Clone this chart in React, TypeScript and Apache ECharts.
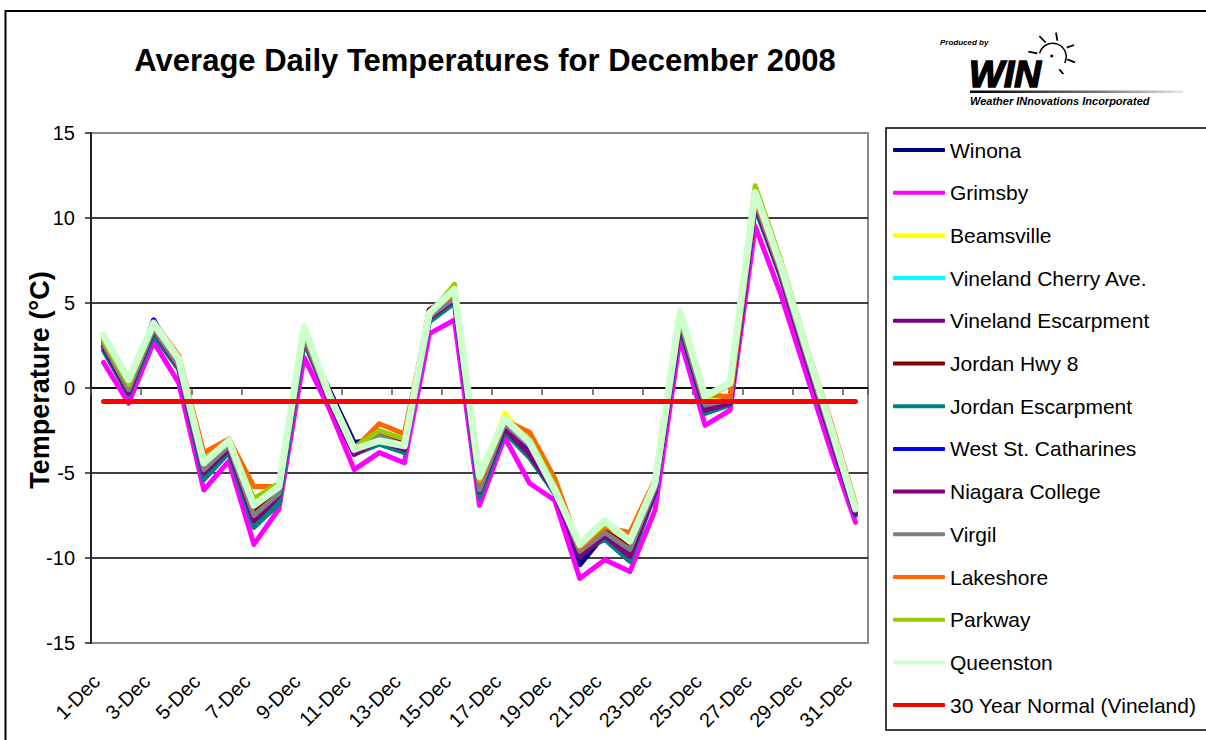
import React, { useEffect, useRef } from "react";
import * as echarts from "echarts";

const days = [
  "1-Dec", "2-Dec", "3-Dec", "4-Dec", "5-Dec", "6-Dec", "7-Dec", "8-Dec", "9-Dec", "10-Dec",
  "11-Dec", "12-Dec", "13-Dec", "14-Dec", "15-Dec", "16-Dec", "17-Dec", "18-Dec", "19-Dec", "20-Dec",
  "21-Dec", "22-Dec", "23-Dec", "24-Dec", "25-Dec", "26-Dec", "27-Dec", "28-Dec", "29-Dec", "30-Dec", "31-Dec",
];

const winona = [2.5, -0.2, 4.0, 1.3, -5.0, -3.5, -7.4, -6.2, 2.9, -0.1, -3.2, -3.0, -3.5, 4.6, 5.4, -5.7, -2.3, -3.8, -6.2, -10.4, -8.6, -9.6, -6.0, 3.7, -1.2, -0.9, 10.9, 6.9, 2.0, -2.7, -7.4];
const grimsby = [1.5, -0.9, 2.7, 0.3, -6.0, -4.3, -9.2, -7.1, 1.8, -1.2, -4.8, -3.8, -4.4, 3.2, 4.0, -6.9, -2.9, -5.6, -6.6, -11.2, -10.1, -10.8, -7.2, 2.9, -2.2, -1.3, 9.5, 5.6, 1.0, -3.6, -7.9];
const beamsville = [2.9, 0.1, 3.6, 1.5, -4.5, -3.2, -7.0, -6.0, 3.2, -0.6, -3.7, -2.8, -3.3, 4.3, 5.5, -5.6, -1.5, -3.2, -5.9, -9.5, -8.4, -9.2, -5.7, 4.1, -0.8, -0.6, 11.3, 7.0, 2.3, -2.4, -7.1];
const vinelandCherry = [2.7, -0.2, 3.5, 1.2, -4.8, -3.4, -7.5, -6.1, 3.0, -0.6, -3.7, -3.0, -3.5, 4.2, 5.3, -6.0, -2.2, -3.7, -6.0, -9.8, -8.6, -9.7, -6.0, 3.8, -1.1, -0.8, 11.0, 6.9, 2.1, -2.6, -7.3];
const vinelandEsc = [2.5, -0.3, 3.3, 1.2, -5.1, -3.6, -7.9, -6.4, 2.8, -0.7, -3.9, -3.1, -3.6, 4.1, 5.3, -6.1, -2.4, -3.9, -6.1, -9.9, -8.7, -9.9, -6.1, 3.7, -1.2, -0.9, 10.8, 6.7, 1.9, -2.8, -7.4];
const jordanHwy8 = [2.7, 0.0, 3.6, 1.5, -4.6, -3.3, -7.3, -6.0, 3.1, -0.4, -3.5, -2.8, -3.3, 4.6, 5.5, -5.8, -2.1, -3.5, -5.9, -9.6, -8.4, -9.4, -5.8, 4.0, -0.9, -0.7, 11.1, 7.0, 2.2, -2.5, -7.2];
const jordanEsc = [2.2, -0.4, 3.1, 1.1, -5.4, -3.8, -8.2, -6.8, 2.7, -0.7, -3.9, -3.3, -3.8, 3.9, 5.0, -6.4, -2.6, -4.1, -6.2, -9.7, -8.9, -10.2, -6.2, 3.5, -1.5, -1.0, 10.6, 6.6, 1.8, -2.9, -7.5];
const westStCatharines = [2.6, -0.1, 4.0, 1.4, -4.9, -3.5, -7.6, -6.2, 3.0, -0.6, -3.8, -3.1, -3.6, 4.2, 5.2, -6.0, -2.3, -3.8, -6.1, -9.9, -8.5, -9.7, -6.1, 3.8, -1.0, -0.8, 10.8, 6.8, 2.0, -2.7, -7.3];
const niagaraCollege = [2.4, -0.3, 3.4, 1.2, -5.0, -3.6, -7.8, -6.3, 2.9, -0.7, -3.9, -3.1, -3.6, 4.1, 5.2, -6.1, -2.4, -3.9, -6.1, -9.9, -8.7, -9.9, -6.1, 3.7, -1.3, -0.9, 10.8, 6.7, 1.9, -2.8, -7.4];
const virgil = [2.6, -0.1, 3.5, 1.3, -4.8, -3.4, -7.5, -6.2, 3.0, -0.6, -3.7, -2.8, -3.4, 4.2, 5.3, -6.0, -2.1, -3.4, -5.9, -9.6, -8.5, -9.5, -5.9, 3.9, -1.0, -0.7, 11.0, 6.9, 2.1, -2.6, -7.2];
const lakeshore = [2.9, 0.3, 3.9, 1.9, -3.8, -3.0, -5.8, -5.8, 3.4, -0.5, -3.6, -2.1, -2.7, 4.4, 5.6, -5.5, -1.9, -2.6, -5.3, -9.4, -8.2, -8.5, -5.4, 4.3, -0.4, -0.5, 11.2, 7.1, 2.6, -1.9, -6.8];
const parkway = [2.8, 0.2, 3.7, 1.6, -4.2, -3.1, -6.5, -5.6, 3.3, -0.5, -3.5, -2.5, -3.0, 4.3, 6.1, -5.4, -1.9, -3.0, -5.7, -9.3, -8.0, -8.9, -5.6, 4.2, -0.6, 0.2, 11.9, 7.6, 2.7, -2.1, -6.9];
const queenston = [3.1, 0.5, 3.8, 1.7, -4.4, -3.1, -6.9, -5.8, 3.6, -0.4, -3.6, -3.1, -3.4, 4.4, 5.8, -5.2, -1.8, -3.2, -6.0, -9.2, -7.8, -9.0, -5.6, 4.5, -0.5, 0.3, 11.5, 7.3, 2.5, -2.2, -7.1];
const normal30 = [-0.8, -0.8, -0.8, -0.8, -0.8, -0.8, -0.8, -0.8, -0.8, -0.8, -0.8, -0.8, -0.8, -0.8, -0.8, -0.8, -0.8, -0.8, -0.8, -0.8, -0.8, -0.8, -0.8, -0.8, -0.8, -0.8, -0.8, -0.8, -0.8, -0.8, -0.8];

const seriesNames = [
  "Winona", "Grimsby", "Beamsville", "Vineland Cherry Ave.", "Vineland Escarpment", "Jordan Hwy 8",
  "Jordan Escarpment", "West St. Catharines", "Niagara College", "Virgil", "Lakeshore", "Parkway",
  "Queenston", "30 Year Normal (Vineland)",
];
const seriesData = [
  winona, grimsby, beamsville, vinelandCherry, vinelandEsc, jordanHwy8, jordanEsc, westStCatharines,
  niagaraCollege, virgil, lakeshore, parkway, queenston, normal30,
];
const seriesColors = [
  "#000080", "#FF00FF", "#FFFF00", "#00FFFF", "#800080", "#800000", "#008080", "#0000FF",
  "#800080", "#808080", "#FF6600", "#99CC00", "#CCFFCC", "#FF0000",
];
const yTicks = { min: -15, max: 15, interval: 5 };

const FONT = "Arial, 'Liberation Sans', Helvetica, sans-serif";

export default function App() {
  const ref = useRef<HTMLDivElement>(null);
  useEffect(() => {
    document.body.style.margin = "0";
    if (!ref.current) return;
    const chart = echarts.init(ref.current, null, { renderer: "svg" });
    const series = seriesNames.map((name, i) => ({
      name,
      type: "line",
      data: seriesData[i],
      symbol: "none",
      showSymbol: false,
      xAxisIndex: 0,
      yAxisIndex: 0,
      color: seriesColors[i],
      itemStyle: { color: seriesColors[i] },
      lineStyle: {
        color: seriesColors[i],
        width: name === "Queenston" ? 7 : 5,
        join: "round",
        cap: "round",
      },
      emphasis: { disabled: true },
    }));

    const rays = [
      [1028.3, 51.7, 1037.3, 53.3],
      [1039.3, 36, 1045.7, 42.7],
      [1056, 32.7, 1057.3, 40.7],
      [1066.7, 47.7, 1074, 45],
      [1067.3, 59.3, 1075, 62.3],
      [1059.3, 69.3, 1063.3, 74],
    ];

    chart.setOption({
      animation: false,
      backgroundColor: "#ffffff",
      textStyle: { fontFamily: FONT },
      grid: {
        left: 91,
        top: 133,
        right: 1206 - 868,
        bottom: 740 - 643,
        show: true,
        borderColor: "#8a8a8a",
        borderWidth: 2,
        backgroundColor: "transparent",
      },
      legend: {
        orient: "vertical",
        left: 893,
        top: 139,
        padding: 0,
        itemWidth: 52,
        itemHeight: 4,
        itemGap: 20.7,
        icon: "roundRect",
        textStyle: { fontSize: 21, color: "#000", fontFamily: FONT, lineHeight: 22 },
        data: seriesNames,
        selectedMode: false,
      },
      xAxis: [
        {
          type: "category",
          data: days,
          boundaryGap: true,
          position: "bottom",
          axisLine: { show: false, onZero: false },
          axisTick: { show: false },
          axisLabel: {
            interval: 1,
            rotate: 45,
            fontSize: 20,
            color: "#000",
            margin: 28,
            padding: [0, 10, 0, 0],
            fontFamily: FONT,
          },
          splitLine: { show: false },
        },
        {
          type: "category",
          data: days,
          boundaryGap: true,
          position: "bottom",
          axisLine: { show: true, onZero: true, lineStyle: { color: "#000", width: 1.5 } },
          axisTick: { show: true, interval: 1, length: 7, lineStyle: { color: "#555", width: 1.5 } },
          axisLabel: { show: false },
          splitLine: { show: false },
        },
      ],
      yAxis: {
        type: "value",
        min: yTicks.min,
        max: yTicks.max,
        interval: yTicks.interval,
        axisLine: { show: true, onZero: false, lineStyle: { color: "#222", width: 2 } },
        axisTick: { show: true, length: 6, lineStyle: { color: "#222", width: 1.5 } },
        axisLabel: { fontSize: 20, color: "#000", margin: 16, fontFamily: FONT },
        splitLine: {
          show: true,
          showMinLine: false,
          showMaxLine: false,
          lineStyle: { color: "#000", width: 1.5 },
        },
      },
      graphic: [
        {
          type: "rect",
          silent: true,
          shape: { x: 5.5, y: 11, width: 1300, height: 800 },
          style: { fill: "none", stroke: "#000", lineWidth: 2 },
        },
        {
          type: "rect",
          silent: true,
          shape: { x: 886, y: 128, width: 400, height: 602 },
          style: { fill: "none", stroke: "#000", lineWidth: 1.5 },
        },
        {
          type: "text",
          silent: true,
          x: 485,
          y: 60,
          style: {
            text: "Average Daily Temperatures for December 2008",
            font: `bold 31px ${FONT}`,
            fill: "#000",
            align: "center",
            verticalAlign: "middle",
          },
        },
        {
          type: "text",
          silent: true,
          x: 40,
          y: 380,
          rotation: Math.PI / 2,
          style: {
            text: "Temperature (°C)",
            font: `bold 27px ${FONT}`,
            fill: "#000",
            align: "center",
            verticalAlign: "middle",
          },
        },
        // Logo
        {
          type: "text",
          silent: true,
          x: 940,
          y: 42.5,
          style: {
            text: "Produced by",
            font: `italic bold 8px ${FONT}`,
            fill: "#000",
            align: "left",
            verticalAlign: "middle",
          },
        },
        {
          type: "arc",
          silent: true,
          shape: { cx: 1052.7, cy: 56.7, r: 13.5, startAngle: 3.386, endAngle: 6.77, clockwise: true },
          style: { stroke: "#000", lineWidth: 1.5, fill: "none" },
        },
        ...rays.map((r) => ({
          type: "line",
          silent: true,
          shape: { x1: r[0], y1: r[1], x2: r[2], y2: r[3] },
          style: { stroke: "#000", lineWidth: 1.8 },
        })),
        {
          type: "circle",
          silent: true,
          shape: { cx: 1051.7, cy: 56, r: 1.5 },
          style: { fill: "#000" },
        },
        {
          type: "text",
          silent: true,
          x: 969,
          y: 74,
          style: {
            text: "WIN",
            font: `italic bold 37px ${FONT}`,
            fill: "#000",
            stroke: "#000",
            lineWidth: 1.6,
            align: "left",
            verticalAlign: "middle",
          },
        },
        {
          type: "rect",
          silent: true,
          shape: { x: 970, y: 90.5, width: 213, height: 2.5 },
          style: {
            fill: new echarts.graphic.LinearGradient(0, 0, 1, 0, [
              { offset: 0, color: "#000" },
              { offset: 0.6, color: "#777" },
              { offset: 1, color: "#e6e6e6" },
            ]),
          },
        },
        {
          type: "text",
          silent: true,
          x: 970,
          y: 101,
          style: {
            text: "Weather INnovations Incorporated",
            font: `italic bold 11px ${FONT}`,
            fill: "#000",
            align: "left",
            verticalAlign: "middle",
          },
        },
      ],
      series,
    });
    return () => chart.dispose();
  }, []);
  return <div ref={ref} style={{ width: 1206, height: 740 }} />;
}
